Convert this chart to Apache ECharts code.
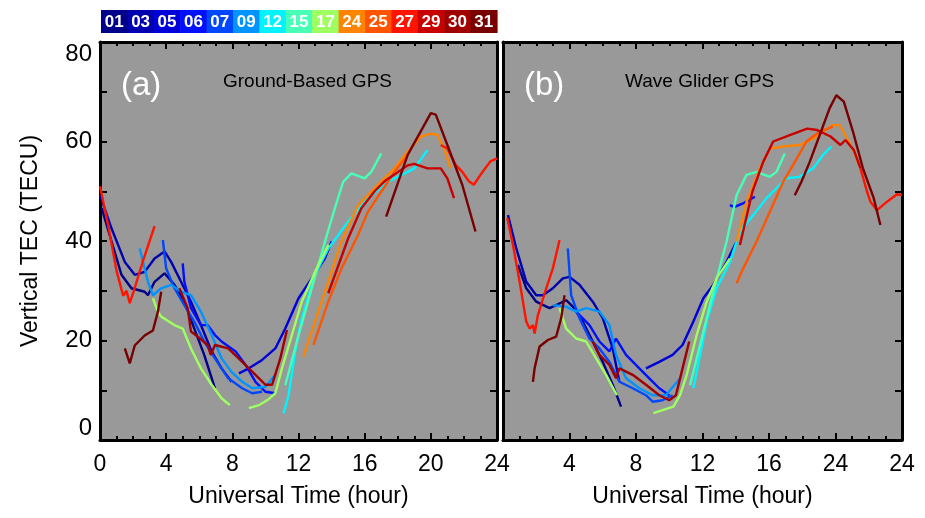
<!DOCTYPE html>
<html>
<head>
<meta charset="utf-8">
<script src="https://cdn.jsdelivr.net/npm/echarts@6/dist/echarts.min.js"></script>
<style>
  html, body { margin: 0; padding: 0; background: #fff; }
  #chart { width: 925px; height: 518px; }
</style>
</head>
<body>
<div id="chart"></div>
<script>
// day labels and colours of the legend strip
const days = ['01', '03', '05', '06', '07', '09', '12', '15', '17', '24', '25', '27', '29', '30', '31']
const dayColors = ['#00008a', '#0000b0', '#0000d8', '#0010ff', '#0048ff', '#0094ff', '#00f4ff', '#48ffb8',
  '#a0ff60', '#ff8400', '#ff5400', '#ff1400', '#c80000', '#a00000', '#780000']

const xTicksA = ['0', '4', '8', '12', '16', '20', '24']
const xTicksB = ['', '4', '8', '12', '16', '24', '24']
const yTicks = ['0', '20', '40', '60', '80']

// panel (a) ground-based GPS, [UT hour, TEC]
const gb01 = [[0.1, 46.6], [0.7, 39.9], [1.3, 33.2], [1.9, 30.5], [2.7, 29.8], [2.9, 29.1], [3.3, 31.8], [3.9, 33.5], [4.5, 31.2], [5.1, 27.8], [5.7, 22.4], [6.3, 17.1], [6.95, 10.4]]
const gb03 = [[0, 49.2], [0.7, 42.5], [1.5, 35.8], [2.1, 33.2], [2.7, 33.8], [3.3, 36.5], [3.9, 37.9], [4.3, 35.8], [4.9, 31.8], [5.5, 27.8], [6.1, 23.1], [6.75, 17.8], [7.35, 14.4], [7.95, 11.7]]
const gb05 = [[8.4, 13.4], [9, 14.4], [9.8, 16.1], [10.6, 18.4], [11.2, 22.4], [12, 28.5], [12.8, 32.5], [13.6, 36.5], [14, 39.9]]
const gb06 = [[5, 35.5], [5.1, 31.8], [5.5, 26.5], [6.1, 23.1], [6.5, 23.1], [6.95, 21.1], [7.35, 19.8], [8.2, 17.8], [8.8, 15.1], [9.4, 11.7], [10, 9.7], [10.6, 9.4]]
const gb07 = [[3.8, 40.2], [4, 34.5], [4.5, 30.5], [5.1, 27.1], [5.7, 23.8], [6.3, 19.8], [6.95, 16.4], [7.35, 14.4], [7.75, 12.4], [8.6, 10.4], [9.2, 9.4], [9.8, 9.7]]
const gb09 = [[2.4, 38.5], [2.9, 31.8], [3.2, 29.1], [3.7, 30.5], [4.3, 31.2], [4.9, 29.8], [5.5, 29.1], [6.1, 25.8], [6.75, 21.1], [7.35, 16.4], [7.95, 13.7], [8.6, 11.7], [9.2, 10.4], [10, 10.7], [10.6, 13.1]]
const gb12 = [[11.1, 5.4], [11.4, 9], [11.8, 17.8], [12.2, 24.5], [13, 33.2], [13.8, 38.5], [15, 43.9], [16.2, 48.6], [17.4, 51.9], [18.6, 53.9], [19, 54.6], [19.8, 58.3]]
const gb15 = [[11.2, 11], [12, 21], [12.8, 30.5], [13.6, 39.9], [14.2, 46.6], [14.7, 51.9], [15.2, 53.6], [16, 52.6], [16.4, 53.9], [17, 57.6]]
const gb17 = [[3.2, 28.5], [3.5, 25.8], [3.7, 24.8], [4.5, 23.1], [5, 22.4], [5.5, 18.4], [6.1, 14.4], [6.75, 11.1], [7.35, 8.4], [7.85, 7], '-',
  [9, 6.4], [9.6, 7], [10.2, 8.2], [10.6, 9.4], [11, 14.4], [11.6, 21.1], [12.2, 27.8], [13, 33.8], [13.8, 39.2]]
const gb24 = [[12.3, 16.8], [13.4, 27.8], [14.6, 39.9], [15.6, 47.2], [16.8, 51.3], [17.8, 54.6], [18.6, 58], [19.4, 61], [20, 61.6], [20.4, 61.3], [20.8, 58.6], [21.2, 54.6]]
const gb25 = [[12.9, 19.1], [13.8, 27.8], [14.6, 34.5], [15.6, 41.2], [16.2, 45.9], [17, 49.9], [17.8, 53.9], [18.6, 57.3]]
const gb27 = [[0, 51], [0.5, 43], [1, 34], [1.4, 29], [1.6, 30], [1.8, 27.5], [2, 29.5], [2.6, 36], [3.3, 43], '-',
  [20.6, 59.3], [21, 58.6], [21.5, 55.3], [21.9, 53.9], [22.3, 52], [22.6, 51.3], [23, 53.3], [23.6, 56], [24, 56.6]]
const gb29 = [[13.8, 29.5], [15, 40.5], [15.8, 46.6], [16.6, 50], [17.2, 52], [18.6, 55.2], [19, 55.5], [19.8, 54.6], [20.6, 54.6], [21, 52.6], [21.4, 48.6]]
const gb30 = [[4.8, 30.5], [5.3, 26.5], [5.5, 21.8], [5.9, 20.8], [6.5, 19.1], [6.7, 17.1], [6.95, 19.1], [7.75, 18.4], [8.6, 15.7], [9.4, 13.1], [10, 11.1], [10.4, 11.1], [10.9, 16.4], [11.3, 22.1]]
const gb31 = [[1.5, 18.4], [1.8, 15.4], [2.1, 19], [2.7, 21], [3.2, 22], [3.5, 25.8], [3.7, 29.8], '-',
  [17.3, 44.9], [18.6, 57.3], [20, 65.7], [20.3, 65.4], [21, 59.3], [21.9, 51.3], [22.7, 41.9]]

// panel (b) wave glider GPS
const wg01 = [[0.9, 35.2], [1.4, 30.5], [2, 27.8], [2.8, 26.5], [3.2, 27.1], [3.8, 28.1], [4.2, 26.8], [4.8, 23.8], [5.4, 19.8], [6, 15.7], [6.6, 11.1], [7.1, 6.7]]
const wg03 = [[0.3, 45.2], [0.8, 38.5], [1.4, 31.8], [2, 29.1], [2.4, 29.1], [3, 30.5], [3.6, 32.5], [4, 32.8], [4.6, 31.2], [5.4, 27.8], [6, 24.5], [6.6, 18.4], [7, 11.7]]
const wg05 = [[8.6, 14.4], [9.4, 15.7], [10.2, 17.1], [10.8, 19.1], [11.45, 23.8], [12.05, 28.5], [12.65, 31.2], [13.45, 35.8], [14.05, 39.9]]
const wg06 = [[4.4, 25.8], [5.2, 23.1], [5.8, 19.8], [6.4, 17.8], [6.8, 20.4], [7.4, 17.1], [8.2, 14.4], [8.8, 12.4], [9.4, 10.4], [10, 9], '-',
  [13.65, 47.2], [13.9, 46.8], [14.4, 47.5], [15.15, 48.9]]
const wg07 = [[3.9, 38.5], [4.1, 29.1], [4.6, 24.5], [5.2, 20.4], [5.8, 18.4], [6.4, 15.7], [7, 11.7], [7.8, 10.4], [8.6, 9], [9, 7.7], [9.6, 8], [10.2, 9]]
const wg09 = [[3, 27.1], [3.8, 26.8], [4.4, 25.8], [5, 26.5], [5.8, 25.8], [6.4, 23.1], [6.8, 17.1], [7.4, 12.4], [8.2, 10.4], [9, 9], [9.8, 9], [10.65, 12.4]]
const wg12 = [[11.45, 10.4], [11.85, 17.1], [12.25, 23.8], [12.85, 30.5], [13.65, 35.8], [14.25, 41.9], [15.05, 45.2], [15.85, 48.6], [16.45, 50.6], [17.05, 52.6], [17.85, 52.9], [18.65, 54.6], [19.25, 57.3], [19.75, 59]]
const wg15 = [[11.25, 11], [11.85, 19.1], [12.65, 29.8], [13.45, 39.9], [14.05, 49.2], [14.65, 53.3], [15.25, 53.9], [16.05, 52.9], [16.45, 53.9], [16.95, 57.6]]
const wg17 = [[3.4, 26.5], [3.8, 22.4], [4.4, 20.4], [5, 19.8], [5.6, 16.4], [6.2, 13.1], [6.85, 9], '-',
  [9.05, 5.4], [9.6, 6], [10.25, 6.7], [10.65, 9], [11.05, 13.1], [11.65, 21.1], [12.25, 27.8], [12.85, 32.5], [13.65, 36.5]]
const wg24 = [[14.05, 39.9], [14.65, 47.9], [15.45, 54.6], [16.05, 58.6], [16.85, 59], [17.85, 59.3], [18.65, 60.6], [19.25, 62], [19.85, 63.3], [20.25, 63.3], [20.7, 60.6], [21.1, 58], [21.4, 55.3]]
const wg25 = [[14.05, 31.5], [14.45, 34.5], [15.25, 39.9], [16.05, 45.9], [16.85, 51.9], [17.45, 55.3], [18.25, 60], [19.05, 62], [19.85, 63]]
const wg27 = [[0.26, 44.6], [0.6, 39.2], [1, 31.8], [1.4, 23.8], [1.6, 22.4], [1.8, 23.1], [1.9, 21.4], [2.1, 25.1], [2.6, 30.5], [3, 34.5], [3.4, 40.2], '-',
  [21.5, 54.6], [21.9, 49.9], [22.1, 47.9], [22.5, 46.2], [23.1, 47.9], [23.7, 49.4], [24, 49.2]]
const wg29 = [[14.25, 39.2], [15, 49.9], [15.65, 55.9], [16.25, 60], [17.25, 61.3], [18.3, 62.6], [18.9, 62.3], [19.7, 61], [20.3, 59.3], [20.6, 60.3], [21.1, 58.3], [21.5, 54.6]]
const wg30 = [[5.4, 19.8], [5.8, 17.1], [6.4, 15.1], [6.8, 12.4], [7, 14.4], [7.8, 13.1], [8.6, 11.1], [9.4, 9], [10, 8], [10.4, 9], [10.8, 14.4], [11.2, 19.8]]
const wg31 = [[1.8, 11.7], [1.9, 14.4], [2.2, 18.8], [2.7, 20.1], [3.2, 20.8], [3.5, 24.5], [3.7, 29.1], '-',
  [17.55, 49.2], [17.95, 51.9], [18.45, 55.9], [19.05, 61.3], [19.65, 66.7], [20.05, 69.3], [20.5, 68], [21.05, 62], [21.65, 54.6], [22.3, 48.6], [22.7, 43.2]]

const groundData = [gb01, gb03, gb05, gb06, gb07, gb09, gb12, gb15, gb17, gb24, gb25, gb27, gb29, gb30, gb31]
const gliderData = [wg01, wg03, wg05, wg06, wg07, wg09, wg12, wg15, wg17, wg24, wg25, wg27, wg29, wg30, wg31]

const font = 'Liberation Sans, Arial, sans-serif'

function xAxes(gridIndex, labels) {
  const base = {
    gridIndex: gridIndex,
    type: 'value',
    min: 0,
    max: 24,
    interval: 4,
    axisLine: { show: true, onZero: false, lineStyle: { color: '#000', width: 3 } },
    axisTick: { inside: true, length: 7, lineStyle: { color: '#000', width: 2 } },
    minorTick: { show: true, splitNumber: 4, length: 4, lineStyle: { color: '#000', width: 2 } },
    splitLine: { show: false }
  }
  return [
    Object.assign({}, base, {
      position: 'bottom',
      name: 'Universal Time (hour)',
      nameLocation: 'middle',
      nameGap: 45,
      nameTextStyle: { fontFamily: font, fontSize: 23, color: '#000' },
      axisLabel: {
        margin: 13,
        fontFamily: font,
        fontSize: 23,
        color: '#000',
        formatter: v => labels[Math.round(v / 4)]
      }
    }),
    Object.assign({}, base, { position: 'top', axisLabel: { show: false } })
  ]
}

function yAxes(gridIndex, withLabels) {
  const base = {
    gridIndex: gridIndex,
    type: 'value',
    min: 0,
    max: 80,
    interval: 20,
    axisLine: { show: true, onZero: false, lineStyle: { color: '#000', width: 3 } },
    axisTick: { inside: true, length: 7, lineStyle: { color: '#000', width: 2 } },
    minorTick: { show: true, splitNumber: 2, length: 7, lineStyle: { color: '#000', width: 2 } },
    splitLine: { show: false }
  }
  const left = Object.assign({}, base, {
    position: 'left',
    axisLabel: {
      show: withLabels,
      margin: 8,
      fontFamily: font,
      fontSize: 24,
      color: '#000',
      verticalAlignMinLabel: 'bottom',
      verticalAlignMaxLabel: 'top',
      formatter: v => yTicks[Math.round(v / 20)]
    }
  })
  if (withLabels) {
    left.name = 'Vertical TEC (TECU)'
    left.nameLocation = 'middle'
    left.nameGap = 58
    left.nameTextStyle = { fontFamily: font, fontSize: 23, color: '#000' }
  }
  return [left, Object.assign({}, base, { position: 'right', axisLabel: { show: false } })]
}

function panelSeries(list, xIdx, yIdx) {
  return list.map((d, i) => ({
    name: days[i],
    type: 'line',
    xAxisIndex: xIdx,
    yAxisIndex: yIdx,
    data: d,
    showSymbol: false,
    symbol: 'none',
    connectNulls: false,
    lineStyle: { color: dayColors[i], width: 2.4 },
    itemStyle: { color: dayColors[i] },
    z: 3
  }))
}

// colour strip with day numbers
const stripLeft = 101
const stripTop = 10
const boxW = 26.4
const boxH = 23
const legendGraphics = []
days.forEach((d, i) => {
  legendGraphics.push({
    type: 'rect',
    left: stripLeft + i * boxW,
    top: stripTop,
    shape: { width: boxW + 0.6, height: boxH },
    style: { fill: dayColors[i] }
  })
  legendGraphics.push({
    type: 'text',
    x: stripLeft + i * boxW + boxW / 2,
    y: stripTop + boxH / 2 + 1,
    style: {
      text: d,
      fill: '#fff',
      font: 'bold 17px ' + font,
      textAlign: 'center',
      textVerticalAlign: 'middle'
    }
  })
})

const chart = echarts.init(document.getElementById('chart'), null, { renderer: 'canvas' })
chart.setOption({
  animation: false,
  backgroundColor: '#fff',
  title: [
    { text: '(a)', left: 116, top: 64, textStyle: { color: '#fff', fontSize: 33, fontWeight: 'normal', fontFamily: font } },
    { text: 'Ground-Based GPS', left: 218, top: 67, textStyle: { color: '#000', fontSize: 19, fontWeight: 'normal', fontFamily: font } },
    { text: '(b)', left: 519, top: 64, textStyle: { color: '#fff', fontSize: 33, fontWeight: 'normal', fontFamily: font } },
    { text: 'Wave Glider GPS', left: 620, top: 67, textStyle: { color: '#000', fontSize: 19, fontWeight: 'normal', fontFamily: font } }
  ],
  grid: [
    { left: 100, top: 42, width: 397, height: 398, show: true, backgroundColor: '#999999', borderWidth: 0 },
    { left: 503, top: 42, width: 399, height: 398, show: true, backgroundColor: '#999999', borderWidth: 0 }
  ],
  xAxis: xAxes(0, xTicksA).concat(xAxes(1, xTicksB)),
  yAxis: yAxes(0, true).concat(yAxes(1, false)),
  series: panelSeries(groundData, 0, 0).concat(panelSeries(gliderData, 2, 2)),
  graphic: legendGraphics
})
</script>
</body>
</html>
